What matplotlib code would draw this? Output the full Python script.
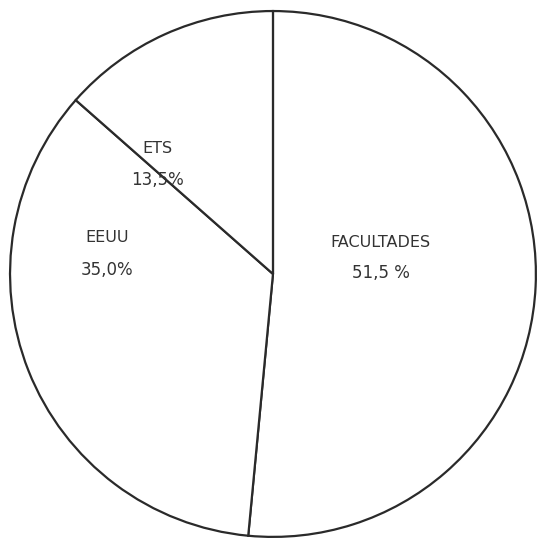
import matplotlib
matplotlib.use("Agg")
import matplotlib.pyplot as plt

categories = ["FACULTADES", "EEUU", "ETS"]
values = [51.5, 35.0, 13.5]
labels = ["51,5 %", "35,0%", "13,5%"]

fig = plt.figure(figsize=(5.37, 5.39), dpi=100)
ax = fig.add_axes([0, 0, 1, 1])
ax.pie(values, startangle=90, counterclock=False, radius=1.0,
       colors=["white"] * 3,
       wedgeprops=dict(edgecolor="#2a2a2a", linewidth=1.6))
ax.set_xlim(-1.038, 1.004)
ax.set_ylim(-1.008, 1.042)
ax.set_aspect("equal")
ax.axis("off")

pos = [(0.41, 0.118, 0.004), (-0.63, 0.137, 0.015), (-0.44, 0.479, 0.357)]
for cat, lab, (x, y1, y2) in zip(categories, labels, pos):
    ax.text(x, y1, cat, ha="center", va="center", fontsize=11.5,
            color="#333333", family="DejaVu Sans")
    ax.text(x, y2, lab, ha="center", va="center", fontsize=12,
            color="#333333", family="DejaVu Sans")

fig.savefig("out.png", dpi=100, facecolor="white")
